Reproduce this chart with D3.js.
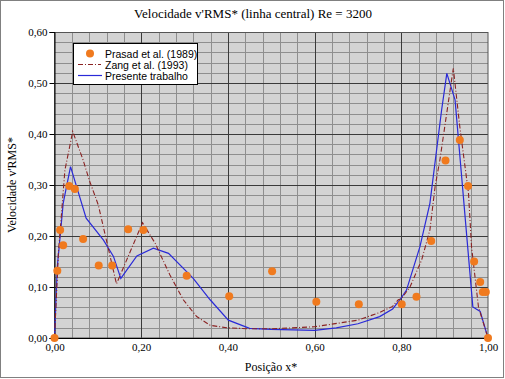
<!DOCTYPE html>
<html><head><meta charset="utf-8">
<script src="https://cdn.jsdelivr.net/npm/d3@7"></script>
<style>body{margin:0;background:#fff}svg{display:block}</style>
</head><body>
<script>
const title = "Velocidade v'RMS* (linha central) Re = 3200";
const xTitle = "Posição x*";
const yTitle = "Velocidade v'RMS*";
const legendLabels = ["Prasad et al. (1989)", "Zang et al. (1993)", "Presente trabalho"];
const xTicks = [0, 0.2, 0.4, 0.6, 0.8, 1.0];
const yTicks = [0, 0.1, 0.2, 0.3, 0.4, 0.5, 0.6];

const prasadX = [0, 0.0065, 0.013, 0.020, 0.034, 0.047, 0.066, 0.102, 0.133, 0.170, 0.205, 0.305, 0.403, 0.502, 0.604, 0.702, 0.801, 0.835, 0.869, 0.902, 0.935, 0.954, 0.968, 0.982, 0.988, 0.995, 1.0];
const prasadY = [0, 0.132, 0.212, 0.182, 0.298, 0.292, 0.194, 0.142, 0.142, 0.213, 0.212, 0.122, 0.082, 0.131, 0.071, 0.066, 0.066, 0.081, 0.190, 0.348, 0.388, 0.298, 0.150, 0.110, 0.090, 0.090, 0];

const zangX = [0, 0.009, 0.024, 0.042, 0.066, 0.08, 0.101, 0.143, 0.203, 0.232, 0.266, 0.297, 0.328, 0.359, 0.397, 0.45, 0.5, 0.6, 0.7, 0.75, 0.78, 0.793, 0.8, 0.82, 0.847, 0.866, 0.878, 0.889, 0.92, 0.935, 0.955, 0.962, 0.978, 1.0];
const zangY = [0, 0.166, 0.329, 0.405, 0.349, 0.31, 0.261, 0.106, 0.226, 0.186, 0.124, 0.075, 0.042, 0.025, 0.02, 0.018, 0.018, 0.022, 0.035, 0.05, 0.062, 0.075, 0.077, 0.1, 0.153, 0.212, 0.297, 0.349, 0.529, 0.414, 0.284, 0.179, 0.061, 0];

const presX = [0, 0.0065, 0.02, 0.037, 0.073, 0.113, 0.136, 0.153, 0.19, 0.228, 0.263, 0.32, 0.359, 0.401, 0.45, 0.5, 0.6, 0.65, 0.7, 0.75, 0.78, 0.797, 0.812, 0.843, 0.866, 0.893, 0.905, 0.924, 0.965, 0.982, 1.0];
const presY = [0, 0.14, 0.264, 0.336, 0.235, 0.192, 0.16, 0.117, 0.161, 0.176, 0.166, 0.117, 0.075, 0.035, 0.019, 0.017, 0.015, 0.02, 0.028, 0.042, 0.057, 0.075, 0.094, 0.179, 0.264, 0.447, 0.519, 0.467, 0.061, 0.052, 0];

const W = 505, H = 379;
const L = 54.5, R = 488, T = 32, B = 338;
const serif = "'Liberation Serif', 'Times New Roman', serif";
const sans = "'Liberation Sans', Arial, sans-serif";

const svg = d3.select("body").append("svg").attr("width", W).attr("height", H);
svg.append("rect").attr("x", 0.5).attr("y", 0.5).attr("width", W - 2).attr("height", H - 2)
  .attr("fill", "#fff").attr("stroke", "#808080");

const x = d3.scaleLinear().domain([0, 1]).range([L, R]);
const y = d3.scaleLinear().domain([0, 0.6]).range([B, T]);

svg.append("rect").attr("x", L).attr("y", T).attr("width", R - L).attr("height", B - T).attr("fill", "#d3d3d3");

const g = svg.append("g");
const minorX = d3.range(0, 25).map(i => i * 0.04).filter(v => v > 0 && Math.round(v * 100) % 20 !== 0);
const majorX = [0.2, 0.4, 0.6, 0.8];
const minorY = d3.range(0, 31).map(i => i * 0.02).filter(v => v > 0 && v < 0.6 && Math.round(v * 100) % 10 !== 0);
const majorY = [0.1, 0.2, 0.3, 0.4, 0.5];
g.selectAll(".mx").data(minorX).enter().append("line")
  .attr("x1", d => Math.round(x(d)) + 0.5).attr("x2", d => Math.round(x(d)) + 0.5)
  .attr("y1", T).attr("y2", B).attr("stroke", "#8e8e8e").attr("stroke-width", 1);
g.selectAll(".my").data(minorY).enter().append("line")
  .attr("y1", d => Math.round(y(d)) + 0.5).attr("y2", d => Math.round(y(d)) + 0.5)
  .attr("x1", L).attr("x2", R).attr("stroke", "#8e8e8e").attr("stroke-width", 1);
g.selectAll(".Mx").data(majorX).enter().append("line")
  .attr("x1", d => Math.round(x(d)) + 0.5).attr("x2", d => Math.round(x(d)) + 0.5)
  .attr("y1", T).attr("y2", B).attr("stroke", "#3a3a3a").attr("stroke-width", 1);
g.selectAll(".My").data(majorY).enter().append("line")
  .attr("y1", d => Math.round(y(d)) + 0.5).attr("y2", d => Math.round(y(d)) + 0.5)
  .attr("x1", L).attr("x2", R).attr("stroke", "#3a3a3a").attr("stroke-width", 1);
svg.append("rect").attr("x", L).attr("y", T + 0.5).attr("width", R - L).attr("height", B - T - 0.5)
  .attr("fill", "none").attr("stroke", "#555");

const fmt = d => d3.format(".2f")(d).replace(".", ",");
const ya = svg.append("g").attr("transform", `translate(${L},0)`)
  .call(d3.axisLeft(y).tickValues(yTicks).tickSize(5).tickPadding(2).tickFormat(fmt));
ya.select(".domain").attr("stroke", "#000");
ya.selectAll("text").attr("font-family", serif).attr("font-size", 11).attr("fill", "#000");
const xa = svg.append("g").attr("transform", `translate(0,${B})`)
  .call(d3.axisBottom(x).tickValues(xTicks).tickSize(0).tickPadding(5).tickFormat(fmt));
xa.select(".domain").attr("stroke", "#000");
xa.selectAll("text").attr("font-family", serif).attr("font-size", 11).attr("fill", "#000");

const toPts = (xs, ys) => xs.map((v, i) => [v, ys[i]]);
const line = d3.line().x(d => x(d[0])).y(d => y(d[1]));
svg.append("path").attr("d", line(toPts(presX, presY))).attr("fill", "none")
  .attr("stroke", "#2a2ad8").attr("stroke-width", 1.2);
svg.append("path").attr("d", line(toPts(zangX, zangY))).attr("fill", "none")
  .attr("stroke", "#8b2323").attr("stroke-width", 1.1).attr("stroke-dasharray", "5,2,1,2");
svg.append("g").selectAll("circle").data(toPts(prasadX, prasadY)).enter().append("circle")
  .attr("cx", d => x(d[0])).attr("cy", d => y(d[1])).attr("r", 4).attr("fill", "#f07a1e");

// Legend
const lg = svg.append("g");
lg.append("rect").attr("x", 73.5).attr("y", 43.5).attr("width", 124).attr("height", 41)
  .attr("fill", "#fff").attr("stroke", "#000");
lg.append("circle").attr("cx", 90).attr("cy", 53.5).attr("r", 4).attr("fill", "#f07a1e");
lg.append("line").attr("x1", 78).attr("x2", 101).attr("y1", 64.5).attr("y2", 64.5)
  .attr("stroke", "#8b2323").attr("stroke-width", 1.1).attr("stroke-dasharray", "5,2,1,2");
lg.append("line").attr("x1", 78).attr("x2", 102).attr("y1", 75.5).attr("y2", 75.5)
  .attr("stroke", "#2a2ad8").attr("stroke-width", 1.2);
lg.selectAll("text").data(legendLabels).enter().append("text")
  .attr("x", 105).attr("y", (d, i) => 57.5 + i * 11)
  .attr("font-family", sans).attr("font-size", 10.5).attr("fill", "#000").text(d => d);

svg.append("text").attr("x", 253).attr("y", 18).attr("text-anchor", "middle")
  .attr("font-family", serif).attr("font-size", 13).text(title);
svg.append("text").attr("x", 271).attr("y", 371).attr("text-anchor", "middle")
  .attr("font-family", serif).attr("font-size", 12).text(xTitle);
svg.append("text").attr("transform", "translate(16,185) rotate(-90)").attr("text-anchor", "middle")
  .attr("font-family", serif).attr("font-size", 12).text(yTitle);
</script>
</body></html>
